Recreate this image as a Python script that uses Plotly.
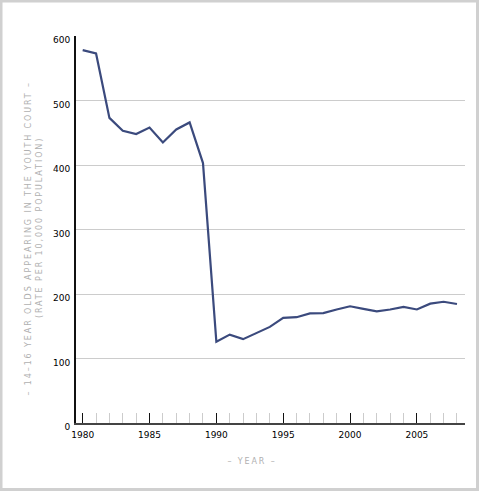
import plotly.graph_objects as go

years = list(range(1980, 2009))
rates = [578, 573, 473, 453, 448, 458, 435, 455, 466, 403,
         126, 137, 130, 140, 149, 163, 164, 170, 170.5, 176,
         181, 177, 173, 176, 180, 176, 185, 188, 184.5]

x_tickvals = [1980, 1985, 1990, 1995, 2000, 2005]
y_tickvals = [0, 100, 200, 300, 400, 500, 600]

x_title = "– YEAR –"
y_title_lines = ["– 14–16 YEAR OLDS APPEARING IN THE YOUTH COURT –",
                 "(RATE PER 10,000 POPULATION)"]

L, R, T, B = 76, 14, 36, 68
W, H = 479, 491
pw, ph = W - L - R, H - T - B

def px_x(p):
    return (p - L) / pw

def px_y(p):
    return (H - B - p) / ph

fig = go.Figure()
fig.add_trace(go.Scatter(
    x=years, y=rates, mode="lines",
    line=dict(color="#3b4a7d", width=2.2),
    hoverinfo="skip", showlegend=False,
))

font = dict(family="DejaVu Sans, Verdana, sans-serif", size=9, color="#000")
title_font = dict(family="DejaVu Sans, Verdana, sans-serif", size=8, color="#b0b0b0")

fig.update_layout(
    width=W, height=H,
    margin=dict(l=L, r=R, t=T, b=B, autoexpand=False),
    paper_bgcolor="white", plot_bgcolor="white",
    font=font,
    xaxis=dict(
        range=[1979.5, 2008.6],
        tickvals=x_tickvals, ticktext=[str(v) for v in x_tickvals],
        ticks="inside", ticklen=10, tickwidth=1, tickcolor="#111",
        minor=dict(dtick=1, tick0=1980, ticks="inside", ticklen=10, tickwidth=1, tickcolor="#cccccc", showgrid=False),
        showgrid=False, zeroline=False,
        showline=True, linecolor="#444", linewidth=2,
        tickfont=font, ticklabelstandoff=2,
        automargin=False,
    ),
    yaxis=dict(
        range=[0, 600],
        tickvals=y_tickvals, ticktext=[str(v) for v in y_tickvals],
        ticks="", showgrid=True, gridcolor="#cccccc", gridwidth=1,
        zeroline=False, showline=True, linecolor="#111", linewidth=2,
        tickfont=font, ticklabelshift=4, ticklabelstandoff=2,
        automargin=False,
    ),
)

# axis titles
fig.add_annotation(text=x_title, xref="paper", yref="paper",
                   x=px_x(251.5), y=px_y(461.5), xanchor="center", yanchor="middle",
                   showarrow=False, font=title_font)
fig.add_annotation(text=y_title_lines[0], xref="paper", yref="paper",
                   x=px_x(28.5), y=px_y(238.5), xanchor="center", yanchor="middle",
                   textangle=-90, showarrow=False, font=title_font)
fig.add_annotation(text=y_title_lines[1], xref="paper", yref="paper",
                   x=px_x(38.5), y=px_y(228), xanchor="center", yanchor="middle",
                   textangle=-90, showarrow=False, font=title_font)

# outer light gray frame
fig.add_shape(type="rect", xref="paper", yref="paper",
              x0=px_x(1.0), x1=px_x(W - 1.5), y0=px_y(H - 1.5), y1=px_y(1.0),
              line=dict(color="#d0d0d0", width=3), fillcolor="rgba(0,0,0,0)", layer="above")

post = """
var gd = document.getElementById('{plot_id}');
gd.querySelectorAll('.annotation-text').forEach(function(t){
  t.style.letterSpacing = '1.9px';
});
"""

fig.write_html("out.html", post_script=post)
